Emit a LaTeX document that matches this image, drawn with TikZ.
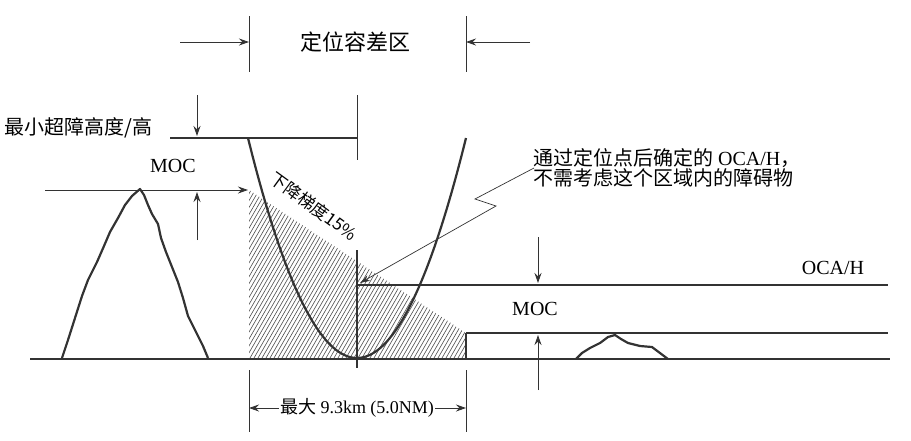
\documentclass[tikz,border=0pt]{standalone}
\usepackage{fontspec}
\setmainfont{Liberation Serif}
\newfontfamily\cjk{Noto Sans CJK SC}
\usetikzlibrary{arrows.meta}
\begin{document}
\begin{tikzpicture}[x=1pt,y=-1pt,
  thick line/.style={line width=2.2pt,color=black!80},
  thin line/.style={line width=0.9pt,color=black!80},
  arr/.style={thin line,-{Stealth[length=10pt,width=7pt]}},
  lbl/.style={font=\fontsize{20}{22}\selectfont,inner sep=1pt},
  clbl/.style={font=\cjk\fontsize{20}{22}\selectfont,inner sep=1pt}]
\useasboundingbox (0,0) rectangle (911,440);
% hatch
\begin{scope}
\clip (249,190) -- (466,333) -- (466,358) -- (249,358) -- cycle;
\foreach \i in {0,4,...,340} {\draw[line width=0.6pt,black!70] (150+\i,358) -- (250+\i,185);}
\end{scope}
% top tolerance zone
\coordinate (tl1) at (249,16); \coordinate (tl2) at (249,72);
\coordinate (tr1) at (466,16); \coordinate (tr2) at (466,72);
\draw[thin line] (tl1) -- (tl2); \draw[thin line] (tr1) -- (tr2);
\coordinate (a1) at (180,42); \coordinate (a2) at (249,42);
\coordinate (a3) at (530,42); \coordinate (a4) at (466,42);
\draw[arr] (a1) -- (a2); \draw[arr] (a3) -- (a4);
\node[clbl,font=\cjk\fontsize{22}{24}\selectfont] (tz) at (355,42) {定位容差区};
% MOCA line
\node[clbl,anchor=west] (mh) at (3,128) {最小超障高度/高};
\coordinate (m1) at (170,138); \coordinate (m2) at (357,138);
\draw[thick line] (m1) -- (m2);
\coordinate (mv1) at (357,95); \coordinate (mv2) at (357,160);
\draw[thin line] (mv1) -- (mv2);
\coordinate (d1) at (197,95); \coordinate (d2) at (197,136);
\draw[arr] (d1) -- (d2);
\node[lbl] (moc1) at (173,166) {MOC};
\coordinate (h1) at (45,190); \coordinate (h2) at (248,190);
\draw[arr] (h1) -- (h2);
\coordinate (u1) at (197,240); \coordinate (u2) at (197,192);
\draw[arr] (u1) -- (u2);
% mountain
\draw[thick line,line join=round] (62,358) -- (68,340) -- (75,318) -- (82,296) -- (88,280) -- (97,262) -- (104,246) -- (110,232) -- (118,218) -- (125,205) -- (132,196) -- (140,189) -- (144,195) -- (148,205) -- (152,214) -- (158,224) -- (161,238) -- (166,252) -- (170,262) -- (178,282) -- (183,298) -- (188,316) -- (196,332) -- (203,346) -- (208,358);
% parabola
\draw[thick line] plot[domain=-109:109,samples=60,smooth] ({357+\x},{358-220*(\x/109)^2});
% ground and levels
\coordinate (g1) at (30,359); \coordinate (g2) at (890,359);
\draw[thick line] (g1) -- (g2);
\coordinate (vb1) at (357,250); \coordinate (vb2) at (357,368);
\draw[thick line] (vb1) -- (vb2);
\coordinate (o1) at (357,285); \coordinate (o2) at (888,285);
\draw[thick line] (o1) -- (o2);
\coordinate (l1) at (466,333); \coordinate (l2) at (888,333);
\draw[thick line] (l1) -- (l2);
\draw[thick line] (466,333) -- (466,359);
\node[lbl] (oca) at (833,268) {OCA/H};
\node[lbl] (moc2) at (535,309) {MOC};
\coordinate (r1) at (538,237); \coordinate (r2) at (538,283);
\draw[arr] (r1) -- (r2);
\coordinate (r3) at (538,390); \coordinate (r4) at (538,335);
\draw[arr] (r3) -- (r4);
% small hill
\draw[thick line,line join=round] (576,359) -- (582,353) -- (590,348) -- (600,343) -- (608,337) -- (615,335) -- (621,339) -- (628,343) -- (640,346) -- (652,347) -- (660,353) -- (668,359);
% slope label
\node[clbl,rotate=-36,font=\cjk\fontsize{17}{19}\selectfont] (sl) at (314,206) {下降梯度15\%};
% callout
\node[anchor=north west,align=left,inner sep=1pt,font=\fontsize{20}{19}\selectfont] (co) at (532,147) {{\cjk 通过定位点后确定的} OCA/H{\cjk ，}\\{\cjk 不需考虑这个区域内的障碍物}};
\coordinate (c1) at (534,168); \coordinate (c2) at (475,199); \coordinate (c3) at (496,206); \coordinate (c4) at (360,283);
\draw[line width=0.7pt,black!80,-{Stealth[length=10pt,width=6pt]}] (c1) -- (c2) -- (c3) -- (c4);
% bottom dimension
\coordinate (b1) at (249,370); \coordinate (b2) at (249,432);
\coordinate (b3) at (466,370); \coordinate (b4) at (466,432);
\draw[thin line] (b1) -- (b2); \draw[thin line] (b3) -- (b4);
\coordinate (bl) at (249,408); \coordinate (br) at (466,408);
\draw[thin line,{Stealth[length=10pt,width=7pt]}-{Stealth[length=10pt,width=7pt]}] (bl) -- (br);
\node[fill=white,inner sep=1pt,font=\fontsize{18}{20}\selectfont] (dim) at (357,408) {{\cjk 最大} 9.3km (5.0NM)};
\end{tikzpicture}
\end{document}
